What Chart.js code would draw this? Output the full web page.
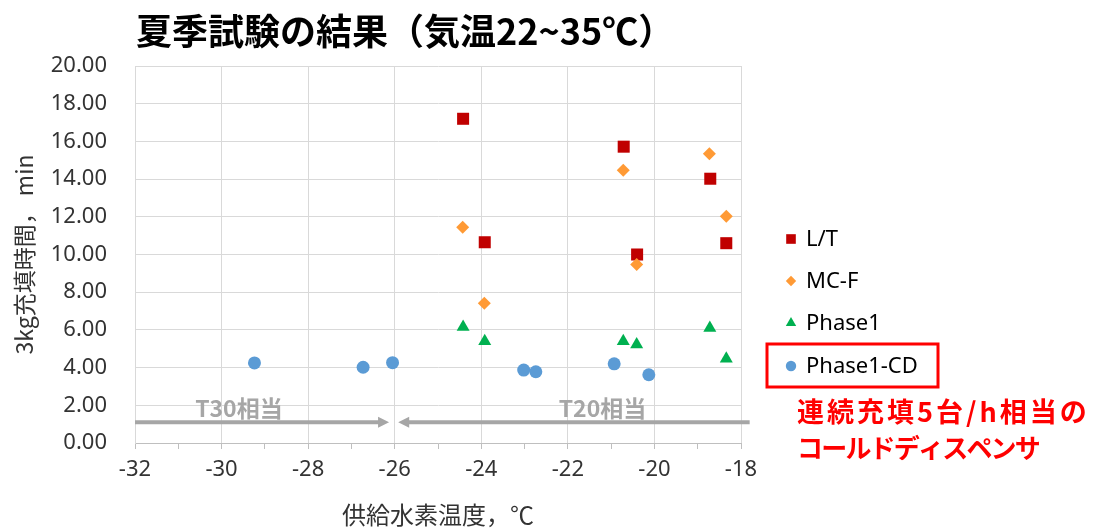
<!DOCTYPE html>
<html lang="ja">
<head>
<meta charset="utf-8">
<title>夏季試験の結果</title>
<script src="https://cdn.jsdelivr.net/npm/chart.js@4/dist/chart.umd.min.js"></script>
<style>
    body { margin: 0; background: #fff; }
    #wrap { width: 1101px; height: 529px; }
</style>
</head>
<body>
<div id="wrap"><canvas id="summerChart" width="1101" height="529"></canvas></div>
<script>
// series values (x = 供給水素温度 ℃, y = 3kg充填時間 min)
const seriesNames = ["L/T", "MC-F", "Phase1", "Phase1-CD"];
const ltX = [-24.42, -23.92, -20.71, -20.40, -18.71, -18.34];
const ltY = [17.20, 10.65, 15.72, 10.00, 14.02, 10.60];
const mcX = [-24.43, -23.93, -20.72, -20.41, -18.73, -18.34];
const mcY = [11.45, 7.42, 14.47, 9.47, 15.35, 12.03];
const p1X = [-24.42, -23.92, -20.72, -20.41, -18.72, -18.34];
const p1Y = [6.15, 5.40, 5.40, 5.22, 6.10, 4.47];
const cdX = [-29.24, -26.73, -26.05, -23.02, -22.74, -20.93, -20.13];
const cdY = [4.25, 4.02, 4.26, 3.87, 3.78, 4.20, 3.62];

// axis range / ticks
const xMin = -32, xMax = -18;
const yMin = 0, yMax = 20, yStep = 2;

// arrows "T30相当" / "T20相当" in data units
const arrowY = 1.1;
const t30Arrow = [-32, -26.13];
const t20Arrow = [-17.8, -25.92];
const bandLabels = ["T30相当", "T20相当"];
const bandLabelX = [-29.6, -21.2];
const bandLabelY = 1.85;

const titleText = "夏季試験の結果（気温22~35℃）";
const noteLines = ["連続充填5台/h相当の", "コールドディスペンサ"];

function pairs(xs, ys) {
    return xs.map((x, i) => ({ x: x, y: ys[i] }));
}

const extrasPlugin = {
    id: "extras",
    afterDraw(chart) {
        const c = chart.ctx;
        const xs = chart.scales.x, ys = chart.scales.y;
        c.save();

        // title
        c.fillStyle = "#000";
        c.font = "bold 36px 'Noto Sans CJK JP'";
        c.textBaseline = "middle";
        c.textAlign = "left";
        c.fillText(titleText, 136, 31);

        // arrows
        c.strokeStyle = "#a6a6a6";
        c.fillStyle = "#a6a6a6";
        c.lineWidth = 4;
        [t30Arrow, t20Arrow].forEach(function (a) {
            const y = ys.getPixelForValue(arrowY);
            const x0 = xs.getPixelForValue(a[0]);
            const x1 = xs.getPixelForValue(a[1]);
            const dir = x1 > x0 ? 1 : -1;
            c.beginPath();
            c.moveTo(x0, y);
            c.lineTo(x1 - dir * 8, y);
            c.stroke();
            c.beginPath();
            c.moveTo(x1, y);
            c.lineTo(x1 - dir * 11, y - 5.5);
            c.lineTo(x1 - dir * 11, y + 5.5);
            c.closePath();
            c.fill();
        });
        c.font = "bold 23px 'Noto Sans CJK JP'";
        c.textAlign = "center";
        bandLabels.forEach(function (t, i) {
            c.fillText(t, xs.getPixelForValue(bandLabelX[i]), ys.getPixelForValue(bandLabelY));
        });

        // legend
        const rowY = [239, 281, 323, 366];
        c.font = "22px 'Noto Sans'";
        c.textAlign = "left";
        chart.data.datasets.forEach(function (ds, i) {
            c.fillStyle = ds.backgroundColor;
            Chart.helpers.drawPoint(c, {
                pointStyle: ds.pointStyle,
                radius: ds.pointRadius * 0.8,
                rotation: 0,
                borderWidth: 0
            }, 791, rowY[i]);
            c.fillStyle = "#000";
            c.fillText(ds.label, 806, rowY[i] + 1);
        });
        c.strokeStyle = "#ff0000";
        c.lineWidth = 3;
        c.strokeRect(767, 344, 171, 43);

        // red note
        c.fillStyle = "#ff0000";
        c.font = "bold 27px 'Noto Sans CJK JP'";
        c.letterSpacing = "3px";
        c.fillText(noteLines[0], 797, 412);
        c.font = "bold 26px 'Noto Sans CJK JP'";
        c.letterSpacing = "-1.8px";
        c.fillText(noteLines[1], 797, 448);
        c.restore();
    }
};

document.addEventListener("DOMContentLoaded", function () {
    const ctx = document.getElementById("summerChart").getContext("2d");

    new Chart(ctx, {
        type: "scatter",
        data: {
            datasets: [
                {
                    label: seriesNames[0],
                    data: pairs(ltX, ltY),
                    pointStyle: "rect",
                    pointRadius: 8.5,
                    backgroundColor: "#c00000",
                    borderWidth: 0,
                    order: 4
                },
                {
                    label: seriesNames[1],
                    data: pairs(mcX, mcY),
                    pointStyle: "rectRot",
                    pointRadius: 6.5,
                    backgroundColor: "#ff9a35",
                    borderWidth: 0,
                    order: 3
                },
                {
                    label: seriesNames[2],
                    data: pairs(p1X, p1Y),
                    pointStyle: "triangle",
                    pointRadius: 7.5,
                    backgroundColor: "#00b050",
                    borderWidth: 0,
                    order: 2
                },
                {
                    label: seriesNames[3],
                    data: pairs(cdX, cdY),
                    pointStyle: "circle",
                    pointRadius: 6.5,
                    backgroundColor: "#5b9bd5",
                    borderWidth: 0,
                    order: 1
                }
            ]
        },
        options: {
            responsive: false,
            animation: false,
            layout: {
                padding: { left: 0, right: 360, top: 66, bottom: 0 }
            },
            plugins: {
                legend: { display: false },
                tooltip: { enabled: false }
            },
            scales: {
                x: {
                    type: "linear",
                    min: xMin,
                    max: xMax,
                    afterFit: function (scale) { scale.height = 86; },
                    ticks: {
                        stepSize: 1,
                        autoSkip: false,
                        maxRotation: 0,
                        padding: 8,
                        color: "#333",
                        font: { family: "'Noto Sans'", size: 22 },
                        callback: function (v) { return v % 2 === 0 ? v : ""; }
                    },
                    grid: {
                        color: function (c) { return c.tick && c.tick.value % 2 === 0 ? "#d9d9d9" : "rgba(0,0,0,0)"; },
                        tickColor: "#bfbfbf",
                        tickLength: 6
                    },
                    border: { color: "#bfbfbf" },
                    title: {
                        display: true,
                        text: "供給水素温度，℃",
                        color: "#333",
                        padding: { top: 0, bottom: 0 },
                        font: { family: "'Noto Sans CJK JP'", size: 24 }
                    }
                },
                y: {
                    min: yMin,
                    max: yMax,
                    afterFit: function (scale) { scale.width = 135; },
                    ticks: {
                        stepSize: yStep,
                        padding: 28,
                        color: "#333",
                        font: { family: "'Noto Sans'", size: 22 },
                        callback: function (v) { return v.toFixed(2); }
                    },
                    grid: {
                        color: "#d9d9d9",
                        drawTicks: false
                    },
                    border: { color: "#d9d9d9" },
                    title: {
                        display: true,
                        text: "3kg充填時間， min",
                        color: "#333",
                        padding: { top: 10, bottom: 0 },
                        font: { family: "'Noto Sans CJK JP'", size: 23 }
                    }
                }
            }
        },
        plugins: [extrasPlugin]
    });
});
</script>
</body>
</html>
